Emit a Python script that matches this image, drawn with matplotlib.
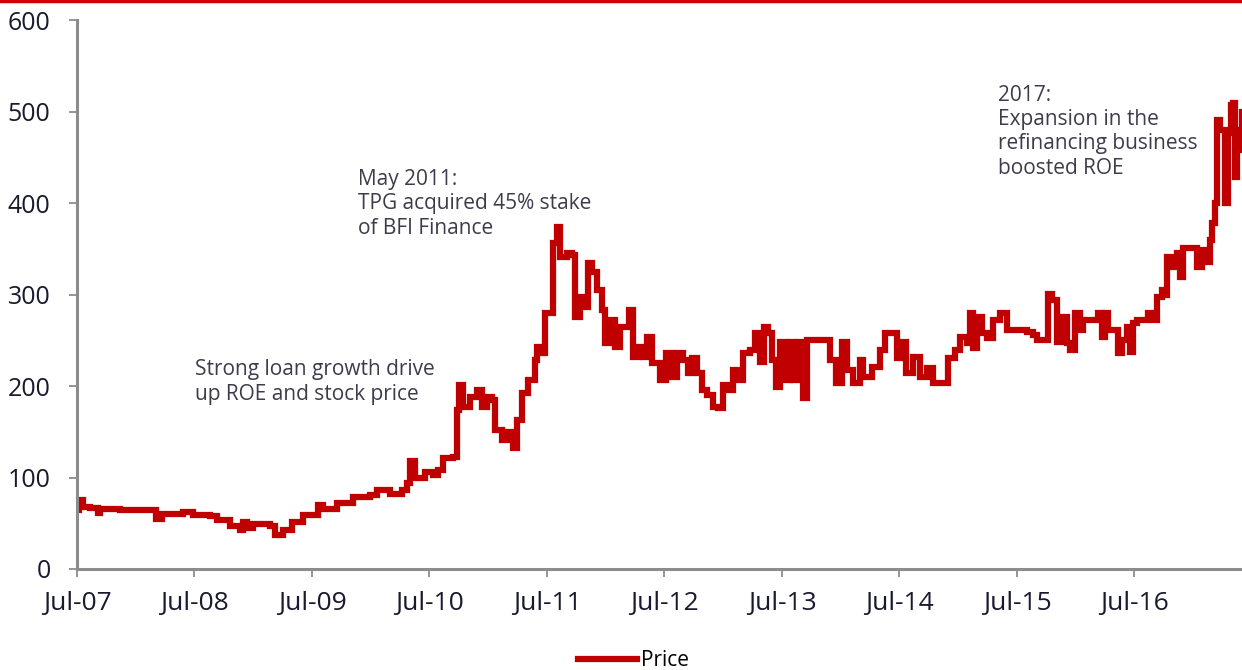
import numpy as np
import matplotlib
matplotlib.use("Agg")
import matplotlib.pyplot as plt
from matplotlib.lines import Line2D

plt.rcParams["font.family"] = ["Open Sans", "DejaVu Sans"]

# 股价走势（小数年份，价格）
year_frac = [
    2007.500, 2007.517, 2007.551, 2007.611, 2007.679, 2007.696, 2007.866, 2008.011,
    2008.138, 2008.172, 2008.223, 2008.402, 2008.487, 2008.632, 2008.691, 2008.802,
    2008.887, 2008.913, 2008.947, 2008.998, 2009.143, 2009.185, 2009.253, 2009.330,
    2009.423, 2009.551, 2009.594, 2009.713, 2009.849, 2009.994, 2010.053, 2010.164,
    2010.266, 2010.309, 2010.334, 2010.377, 2010.462, 2010.530, 2010.572, 2010.615,
    2010.700, 2010.734, 2010.751, 2010.785, 2010.845, 2010.904, 2010.947, 2010.989,
    2011.032, 2011.057, 2011.117, 2011.160, 2011.211, 2011.245, 2011.287, 2011.338,
    2011.398, 2011.415, 2011.457, 2011.483, 2011.543, 2011.551, 2011.585, 2011.611,
    2011.670, 2011.713, 2011.738, 2011.781, 2011.815, 2011.849, 2011.883, 2011.926,
    2011.968, 2011.994, 2012.036, 2012.079, 2012.121, 2012.164, 2012.198, 2012.232,
    2012.274, 2012.317, 2012.351, 2012.394, 2012.462, 2012.513, 2012.564, 2012.606,
    2012.657, 2012.700, 2012.734, 2012.777, 2012.819, 2012.862, 2012.913, 2012.955,
    2012.998, 2013.040, 2013.083, 2013.126, 2013.168, 2013.228, 2013.270, 2013.313,
    2013.347, 2013.381, 2013.415, 2013.449, 2013.483, 2013.526, 2013.568, 2013.594,
    2013.636, 2013.679, 2013.713, 2013.866, 2013.909, 2013.960, 2014.011, 2014.053,
    2014.104, 2014.164, 2014.189, 2014.266, 2014.334, 2014.377, 2014.436, 2014.479,
    2014.521, 2014.555, 2014.615, 2014.674, 2014.734, 2014.785, 2014.870, 2014.913,
    2014.972, 2015.015, 2015.074, 2015.100, 2015.126, 2015.160, 2015.202, 2015.245,
    2015.296, 2015.355, 2015.415, 2015.585, 2015.636, 2015.670, 2015.738, 2015.764,
    2015.798, 2015.840, 2015.891, 2015.926, 2015.951, 2015.994, 2016.036, 2016.062,
    2016.189, 2016.223, 2016.249, 2016.274, 2016.351, 2016.360, 2016.394, 2016.436,
    2016.462, 2016.487, 2016.521, 2016.606, 2016.615, 2016.657, 2016.691, 2016.734,
    2016.760, 2016.777, 2016.819, 2016.862, 2016.887, 2016.913, 2016.998, 2017.032,
    2017.074, 2017.117, 2017.143, 2017.160, 2017.183, 2017.200, 2017.226, 2017.268,
    2017.296, 2017.321, 2017.338, 2017.355, 2017.372, 2017.396, 2017.415,
]
price = [
    65, 75, 68, 67, 61, 66, 64, 65,
    64, 55, 60, 62, 59, 58, 54, 47,
    43, 51, 45, 49, 47, 37, 43, 51,
    59, 70, 66, 72, 79, 81, 86, 82,
    86, 94, 118, 99, 106, 103, 108, 121,
    122, 174, 201, 177, 188, 196, 177, 188,
    185, 152, 141, 150, 132, 163, 192, 207,
    228, 243, 236, 280, 280, 356, 374, 341,
    345, 343, 275, 297, 286, 334, 325, 305,
    283, 247, 272, 243, 265, 265, 283, 232,
    243, 232, 254, 225, 207, 236, 210, 236,
    228, 214, 231, 214, 196, 190, 177, 176,
    201, 196, 217, 207, 236, 239, 258, 226,
    265, 258, 228, 199, 248, 207, 248, 207,
    248, 187, 250, 250, 228, 203, 248, 217,
    203, 228, 210, 221, 239, 258, 258, 231,
    248, 214, 232, 210, 220, 203, 203, 231,
    239, 254, 247, 280, 242, 275, 258, 252,
    272, 280, 261, 259, 256, 250, 250, 301,
    294, 248, 275, 247, 239, 280, 261, 272,
    280, 254, 280, 261, 261, 236, 250, 265,
    237, 269, 272, 272, 280, 272, 297, 305,
    299, 341, 330, 345, 319, 351, 351, 330,
    349, 335, 360, 378, 400, 491, 480, 400,
    477, 507, 509, 428, 480, 458, 500,
]

tick_pos = [2007.5 + i for i in range(10)]
tick_labels = ["Jul-07", "Jul-08", "Jul-09", "Jul-10", "Jul-11",
               "Jul-12", "Jul-13", "Jul-14", "Jul-15", "Jul-16"]
y_ticks = [0, 100, 200, 300, 400, 500, 600]

notes = [
    (2008.504, 229, "Strong loan growth drive\nup ROE and stock price"),
    (2009.891, 437, "May 2011:\nTPG acquired 45% stake\nof BFI Finance"),
    (2015.338, 529, "2017:\nExpansion in the\nrefinancing business\nboosted ROE"),
]

fig = plt.figure(figsize=(12.42, 6.70), dpi=100)
ax = fig.add_axes([77 / 1242, 101 / 670, 1 - 77 / 1242, 549 / 670])

ax.plot(year_frac, price, color="#C00000", linewidth=4.5, label="Price",
        drawstyle="steps-post", solid_joinstyle="miter")

ax.set_xlim(2007.5, 2017.415)
ax.set_ylim(0, 600)
ax.set_xticks(tick_pos)
ax.set_xticklabels(tick_labels, family=["Liberation Sans Narrow", "Open Sans"],
                   fontsize=19, color="#1a1a2e")
ax.set_yticks(y_ticks)
ax.set_yticklabels([str(v) for v in y_ticks], fontsize=18, color="#1a1a2e")

for s in ["top", "right"]:
    ax.spines[s].set_visible(False)
for s in ["left", "bottom"]:
    ax.spines[s].set_color("#8c8c8c")
    ax.spines[s].set_linewidth(2.2)
ax.tick_params(axis="both", direction="out", length=6, width=1.3, color="#8c8c8c")
ax.tick_params(axis="y", pad=13)
ax.tick_params(axis="x", pad=10)

for x, y, t in notes:
    ax.text(x, y, t, fontsize=15, color="#3c3c4c", va="top", ha="left",
            linespacing=1.2)

fig.legend(loc="upper center", bbox_to_anchor=(0.51, 0.045), frameon=False,
           fontsize=15, handlelength=2.8, handletextpad=0.2, borderpad=0)

# 顶部红线
fig.add_artist(Line2D([0, 1], [0.998, 0.998], transform=fig.transFigure,
                      color="#D40000", linewidth=2.5))

fig.savefig("out.png", dpi=100)
